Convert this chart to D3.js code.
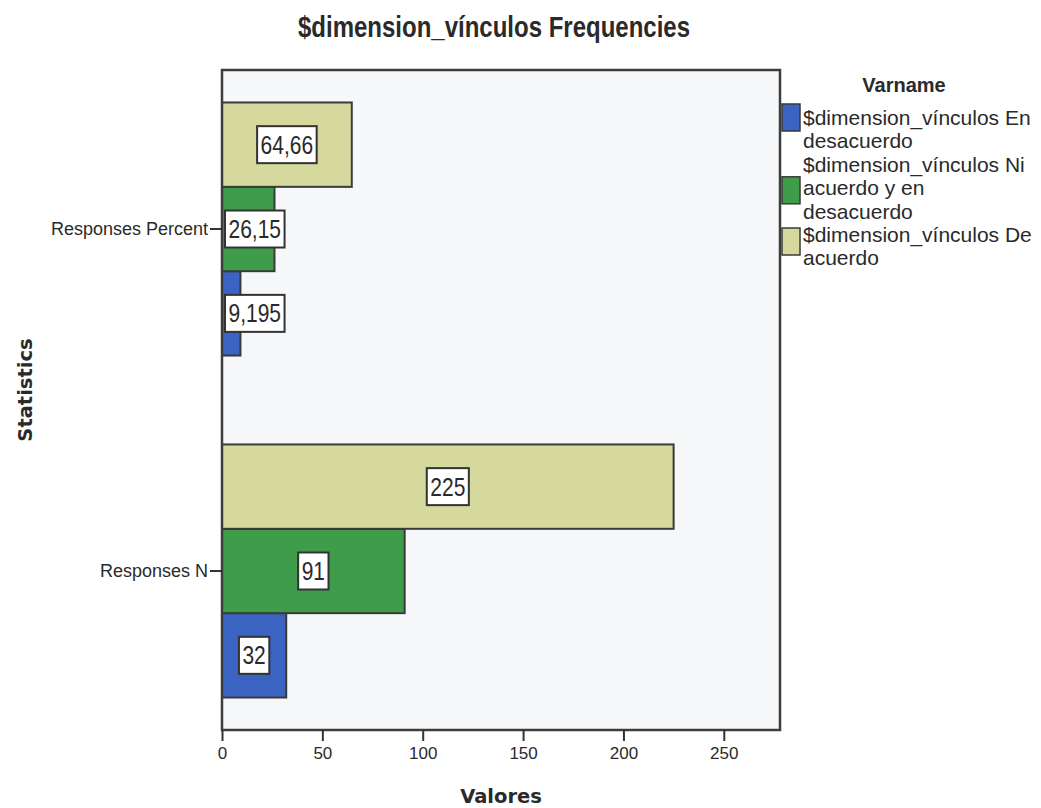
<!DOCTYPE html>
<html>
<head>
<meta charset="utf-8">
<script src="https://cdn.jsdelivr.net/npm/d3@7"></script>
<style>
  body { margin: 0; background: #fff; }
  svg { display: block; }
  text { font-family: 'Liberation Sans', Arial, sans-serif; fill: #2a2a2a; }
</style>
</head>
<body>
<svg id="chart" width="1041" height="808"></svg>
<script>
// chart values
const statistics = ['Responses Percent', 'Responses N'];
const seriesNames = [
  '$dimension_vínculos En desacuerdo',
  '$dimension_vínculos Ni acuerdo y en desacuerdo',
  '$dimension_vínculos De acuerdo'
];
const legendLines = [
  ['$dimension_vínculos En', 'desacuerdo'],
  ['$dimension_vínculos Ni', 'acuerdo y en', 'desacuerdo'],
  ['$dimension_vínculos De', 'acuerdo']
];
const percentValues = [9.195, 26.15, 64.66];
const countValues = [32, 91, 225];
const xTicks = [0, 50, 100, 150, 200, 250];
const colors = ['#3b63c2', '#3e9c4b', '#d5d99d'];

const rows = [];
statistics.forEach((s, i) => {
  const vals = i === 0 ? percentValues : countValues;
  seriesNames.forEach((n, j) => rows.push({stat: s, series: n, idx: j, value: vals[j]}));
});

// the source picture is a bit taller than wide, stretch text around its baseline
function stretch(sel, k) {
  sel.each(function() {
    const t = d3.select(this);
    const yy = +t.attr('y');
    t.attr('transform', `translate(0,${yy * (1 - k)}) scale(1,${k})`);
  });
}

const svg = d3.select('svg#chart');
const plot = {left: 222, right: 780, top: 70, bottom: 730};

const x = d3.scaleLinear().domain([0, 278]).range([plot.left, plot.right]);
const y = d3.scaleBand().domain(statistics)
  .range([plot.top, plot.bottom]).paddingInner(0.26).paddingOuter(0.095);
// top to bottom: De acuerdo, Ni..., En desacuerdo
const yInner = d3.scaleBand().domain(seriesNames.slice().reverse())
  .range([0, y.bandwidth()]);

// title
svg.append('text')
  .attr('x', 494).attr('y', 37)
  .attr('text-anchor', 'middle')
  .style('font-size', '24px').style('font-weight', 'bold')
  .text('$dimension_vínculos Frequencies')
  .call(stretch, 1.2);

// plot background
svg.append('rect')
  .attr('x', plot.left).attr('y', plot.top)
  .attr('width', plot.right - plot.left).attr('height', plot.bottom - plot.top)
  .attr('fill', '#f6f7f9');

// bars
svg.append('g').selectAll('rect')
  .data(rows).join('rect')
  .attr('x', x(0))
  .attr('y', d => y(d.stat) + yInner(d.series))
  .attr('width', d => x(d.value) - x(0))
  .attr('height', yInner.bandwidth())
  .attr('fill', d => colors[d.idx])
  .attr('stroke', '#3a3a3a')
  .attr('stroke-width', 2);

// value labels
const fmt = v => String(v).replace('.', ',');
const lab = svg.append('g').selectAll('g').data(rows).join('g');
lab.each(function(d) {
  const g = d3.select(this);
  const t = g.append('text')
    .attr('text-anchor', 'middle')
    .style('font-size', '21px')
    .text(fmt(d.value));
  const w = t.node().getComputedTextLength() + 7;
  let cx = (x(0) + x(d.value)) / 2;
  cx = Math.max(cx, plot.left + 3 + w / 2);
  const cy = y(d.stat) + yInner(d.series) + yInner.bandwidth() / 2;
  g.insert('rect', 'text')
    .attr('x', cx - w / 2).attr('y', cy - 18.5)
    .attr('width', w).attr('height', 37)
    .attr('fill', '#fff').attr('stroke', '#333').attr('stroke-width', 2);
  t.attr('x', cx).attr('y', cy + 9).call(stretch, 1.2);
});

// plot frame
svg.append('rect')
  .attr('x', plot.left).attr('y', plot.top)
  .attr('width', plot.right - plot.left).attr('height', plot.bottom - plot.top)
  .attr('fill', 'none').attr('stroke', '#3d3d3d').attr('stroke-width', 2.5);

// x axis
const xAxis = svg.append('g')
  .attr('transform', `translate(0,${plot.bottom})`)
  .call(d3.axisBottom(x).tickValues(xTicks).tickSize(11).tickPadding(6));
xAxis.select('.domain').remove();
xAxis.selectAll('line').attr('stroke', '#333').attr('stroke-width', 2);
xAxis.selectAll('text').style('font-size', '17px').attr('fill', '#2a2a2a')
  .style('font-family', "'Liberation Sans', Arial, sans-serif");

// y axis
const yAxis = svg.append('g')
  .attr('transform', `translate(${plot.left},0)`)
  .call(d3.axisLeft(y).tickSize(12).tickPadding(2));
yAxis.select('.domain').remove();
yAxis.selectAll('line').attr('stroke', '#333').attr('stroke-width', 2);
yAxis.selectAll('text').style('font-size', '18px').attr('fill', '#2a2a2a')
  .style('font-family', "'Liberation Sans', Arial, sans-serif");

// axis titles
svg.append('text')
  .attr('x', (plot.left + plot.right) / 2).attr('y', 803)
  .attr('text-anchor', 'middle')
  .style('font-family', "'DejaVu Sans', sans-serif")
  .style('font-size', '19.5px').style('font-weight', 'bold')
  .text('Valores');

svg.append('text')
  .attr('transform', 'translate(32,390) rotate(-90)')
  .attr('text-anchor', 'middle')
  .style('font-family', "'DejaVu Sans', sans-serif")
  .style('font-size', '19.5px').style('font-weight', 'bold')
  .text('Statistics');

// legend
const leg = svg.append('g');
leg.append('text')
  .attr('x', 904).attr('y', 92)
  .attr('text-anchor', 'middle')
  .style('font-size', '20px').style('font-weight', 'bold')
  .text('Varname');

const lineH = 23.4;
const swatchShift = [0, 26, 7];
let ly = 125;
legendLines.forEach((lines, i) => {
  const top = ly;
  lines.forEach(ln => {
    leg.append('text')
      .attr('x', 803).attr('y', ly)
      .style('font-size', '21px')
      .text(ln);
    ly += lineH;
  });
  const mid = top - 7 + swatchShift[i];
  leg.append('rect')
    .attr('x', 782).attr('y', mid - 14)
    .attr('width', 18).attr('height', 27)
    .attr('fill', colors[i]).attr('stroke', '#3a3a3a').attr('stroke-width', 1.5);
});
</script>
</body>
</html>
